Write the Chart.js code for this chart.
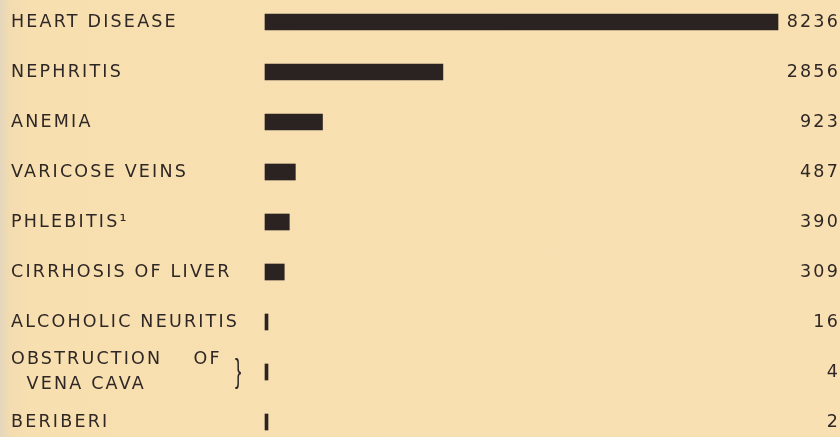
<!DOCTYPE html>
<html lang="en">
<head>
    <meta charset="UTF-8">
    <title>Deaths by cause</title>
    <script src="https://cdn.jsdelivr.net/npm/chart.js"></script>
    <style>
        body {
            margin: 0;
            background: linear-gradient(to right, #e4d6bc 0px, #f3dcb0 10px, #f7dfb0 30px, #f8e0b2 100%);
        }
        #wrap {
            width: 840px;
            height: 437px;
        }
    </style>
</head>
<body>
<div id="wrap">
    <canvas id="causeChart" width="840" height="437"></canvas>
</div>
<script>
    const causes = [
        'HEART DISEASE',
        'NEPHRITIS',
        'ANEMIA',
        'VARICOSE VEINS',
        'PHLEBITIS¹',
        'CIRRHOSIS OF LIVER',
        'ALCOHOLIC NEURITIS',
        ['OBSTRUCTION    OF', '  VENA CAVA'],
        'BERIBERI'
    ];
    const deaths = [8236, 2856, 923, 487, 390, 309, 16, 4, 2];

    const inkColor = '#2e2725';
    const barColor = '#2b2321';
    const labelFont = { family: "'DejaVu Sans', sans-serif", size: 17.5, lineHeight: 1.45 };

    // canvas state is reset on resize, so set the spacing before every draw
    const spacedText = {
        id: 'spacedText',
        beforeDraw(chart) {
            chart.ctx.letterSpacing = '2.2px';
        }
    };

    // curly brace joining the two-line label
    const braceMark = {
        id: 'braceMark',
        afterDraw(chart) {
            const yScale = chart.scales.y;
            const idx = causes.findIndex(c => Array.isArray(c));
            const y = yScale.getPixelForTick(idx);
            const ctx = chart.ctx;
            ctx.save();
            ctx.letterSpacing = '0px';
            ctx.fillStyle = inkColor;
            ctx.font = "34px 'Liberation Sans', sans-serif";
            ctx.textAlign = 'center';
            ctx.textBaseline = 'middle';
            ctx.translate(238, y + 1);
            ctx.scale(0.55, 1);
            ctx.fillText('}', 0, 0);
            ctx.restore();
        }
    };

    const ctx = document.getElementById('causeChart').getContext('2d');
    const chart = new Chart(ctx, {
        type: 'bar',
        data: {
            labels: causes,
            datasets: [{
                data: deaths,
                backgroundColor: barColor,
                borderWidth: 0,
                barThickness: 16,
                minBarLength: 3,
                clip: false
            }]
        },
        options: {
            indexAxis: 'y',
            responsive: false,
            animation: false,
            layout: {
                padding: { left: 11, right: 0, top: 22, bottom: 15 }
            },
            plugins: {
                legend: { display: false },
                tooltip: { enabled: false }
            },
            scales: {
                x: {
                    display: false,
                    min: 0,
                    max: 8236
                },
                y: {
                    type: 'category',
                    position: 'left',
                    offset: false,
                    grid: { display: false },
                    border: { display: false },
                    afterFit: axis => { axis.width = 254; },
                    ticks: {
                        crossAlign: 'far',
                        padding: 0,
                        color: inkColor,
                        font: labelFont,
                        autoSkip: false
                    }
                },
                counts: {
                    type: 'category',
                    position: 'right',
                    labels: causes,
                    offset: false,
                    grid: { display: false },
                    border: { display: false },
                    afterFit: axis => { axis.width = 62; },
                    ticks: {
                        crossAlign: 'far',
                        padding: 0,
                        color: inkColor,
                        font: labelFont,
                        autoSkip: false,
                        callback: (value, index) => String(deaths[index])
                    }
                }
            }
        },
        plugins: [spacedText, braceMark]
    });
</script>
</body>
</html>
